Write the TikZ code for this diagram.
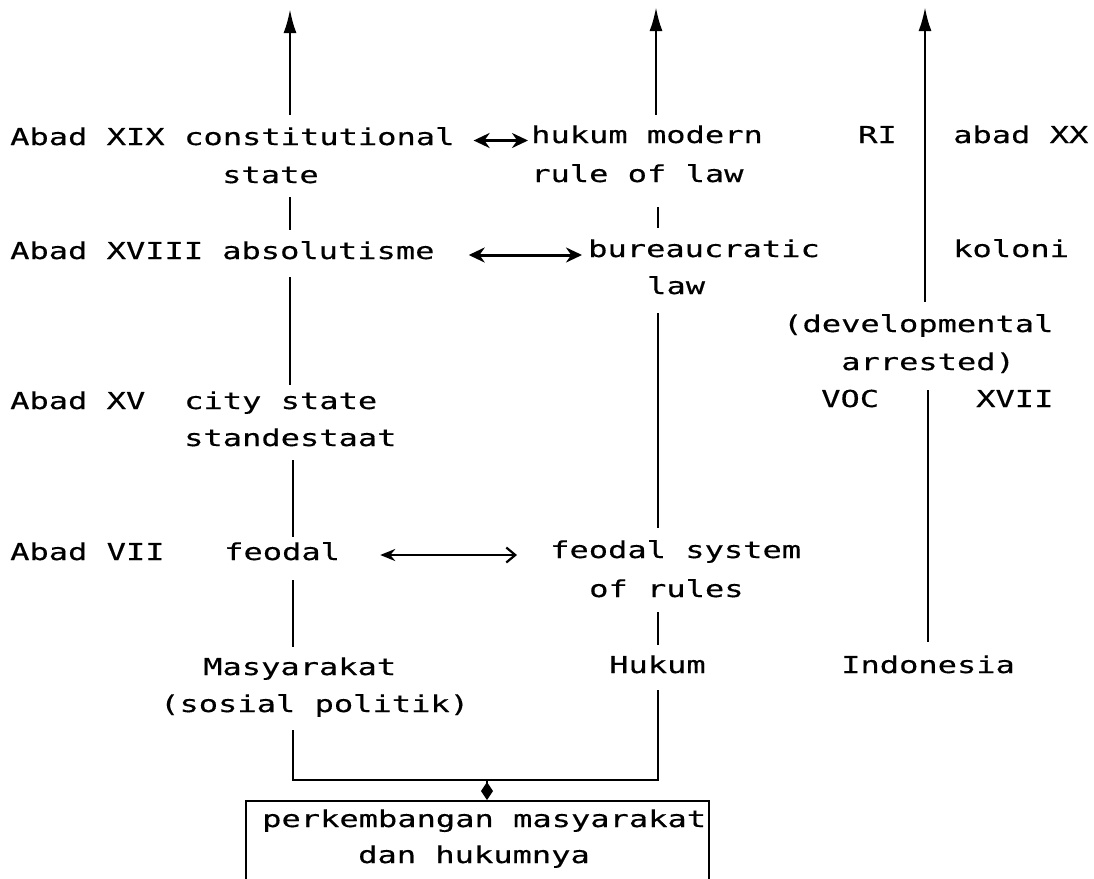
\documentclass[tikz,border=0pt]{standalone}
\usepackage{fontspec}
\newfontfamily\plotfont[FakeStretch=1.376,FakeBold=0.4]{DejaVu Sans Mono}
\usetikzlibrary{arrows.meta,calc}
\begin{document}
\begin{tikzpicture}[x=1pt,y=-1pt,
  txt/.style={font=\plotfont\fontsize{23.3}{37.5}\selectfont, inner sep=0pt, anchor=base west, text height=17pt, text depth=0pt},
  conn/.style={line width=2.4pt, line join=miter},
  uparrow/.style={line width=2.6pt, -{Latex[length=24pt,width=13pt]}},
  dbl/.style={line width=3pt, {Stealth[length=16pt,width=15pt]}-{Stealth[length=16pt,width=15pt]}},
  dblthin/.style={line width=2.6pt, {Stealth[length=15pt,width=12pt]}-{Straight Barb[length=9pt,width=15pt,line width=2.2pt]}},
  boxframe/.style={draw, line width=2.4pt, inner sep=0pt, anchor=north west, minimum width=463pt, minimum height=110pt},
  diam/.style={line width=2pt, -{Diamond[length=18pt,width=12pt]}}
]
\useasboundingbox (0,0) rectangle (1094,878);
\clip (0,0) rectangle (1094,878);

% left column
\node[txt] (eXIX)  at (10,145) {Abad XIX};
\node[txt] (cs1)   at (184,145) {constitutional};
\node[txt] (cs2)   at (222,183) {state};
\node[txt] (eXVIII) at (10,259) {Abad XVIII};
\node[txt] (abs)   at (222,259) {absolutisme};
\node[txt] (eXV)   at (10,409) {Abad XV};
\node[txt] (city1) at (184,409) {city state};
\node[txt] (city2) at (184,446) {standestaat};
\node[txt] (eVII)  at (10,560) {Abad VII};
\node[txt] (feo)   at (224,560) {feodal};
\node[txt] (mas1)  at (203,675) {Masyarakat};
\node[txt] (mas2)  at (160,712) {(sosial politik)};

% middle column
\node[txt] (hm1)  at (531,143) {hukum modern};
\node[txt] (hm2)  at (531,182) {rule of law};
\node[txt] (bur)  at (588,257) {bureaucratic};
\node[txt] (law)  at (647,294) {law};
\node[txt] (fs1)  at (550,558) {feodal system};
\node[txt] (fs2)  at (589,597) {of rules};
\node[txt] (huk)  at (609,673) {Hukum};

% right column
\node[txt] (ri)   at (858,143) {RI};
\node[txt] (axx)  at (953,143) {abad XX};
\node[txt] (kol)  at (953,257) {koloni};
\node[txt] (dev1) at (783,332) {(developmental};
\node[txt] (arr)  at (841,370) {arrested)};
\node[txt] (voc)  at (821,407) {VOC};
\node[txt] (xvii) at (976,407) {XVII};
\node[txt] (indo) at (841,673) {Indonesia};

% bottom box
\node[boxframe] (box) at (245,800) {};
\node[txt] (p1) at (262,827) {perkembangan masyarakat};
\node[txt] (p2) at (358,863) {dan hukumnya};

% column coordinates
\coordinate (cL) at (290,0);
\coordinate (cLL) at (293,0);
\coordinate (cM) at (656,0);
\coordinate (cMM) at (658,0);
\coordinate (cR) at (925,0);
\coordinate (cRR) at (928,0);
\coordinate (tipL) at (290,9);
\coordinate (tipM) at (656,7);
\coordinate (tipR) at (925,7);
\coordinate (jL) at (293,780);
\coordinate (jR) at (658,780);
\coordinate (jD) at (487,780);

% left column connectors
\draw[uparrow, shorten <=13pt] (cL |- cs1.north) -- (tipL);
\draw[conn, shorten <=14pt, shorten >=12pt] (cL |- cs2.south) -- (cL |- abs.north);
\draw[conn, shorten <=18pt, shorten >=7pt] (cL |- abs.south) -- (cL |- city1.north);
\draw[conn, shorten <=14pt, shorten >=6pt] (cLL |- city2.south) -- (cLL |- feo.north);
\draw[conn, shorten <=20pt, shorten >=11pt] (cLL |- feo.south) -- (cLL |- mas1.north);
\draw[conn, shorten <=18pt, shorten >=17pt] (cLL |- mas2.south) -- (jL) -- (jR) -- (cMM |- huk.south);
\draw[diam] (jD) -- (jD |- box.north);

% middle column connectors
\draw[uparrow, shorten <=11pt] (cM |- hm1.north) -- (tipM);
\draw[conn, shorten <=25pt, shorten >=12pt] (cMM |- hm2.south) -- (cMM |- bur.north);
\draw[conn, shorten <=19pt, shorten >=13pt] (cMM |- law.south) -- (cMM |- fs1.north);
\draw[conn, shorten <=15pt, shorten >=11pt] (cMM |- fs2.south) -- (cMM |- huk.north);

% right column connectors
\draw[uparrow, shorten <=13pt] (cR |- dev1.north) -- (tipR);
\draw[conn, shorten <=14pt, shorten >=20pt] (cRR |- indo.north) -- (cRR |- arr.south);

% horizontal double arrows
\draw[dbl, shorten <=19pt, shorten >=3pt] ($(cs1.east)+(0,4)$) -- ($(cs1.east -| hm1.west)+(0,4)$);
\draw[dbl, shorten <=34pt, shorten >=6pt] ($(abs.east)+(0,4.5)$) -- ($(abs.east -| bur.west)+(0,4.5)$);
\draw[dblthin, shorten <=40pt, shorten >=33pt] ($(feo.east)+(0,3.5)$) -- ($(feo.east -| fs1.west)+(0,3.5)$);
\end{tikzpicture}
\end{document}
